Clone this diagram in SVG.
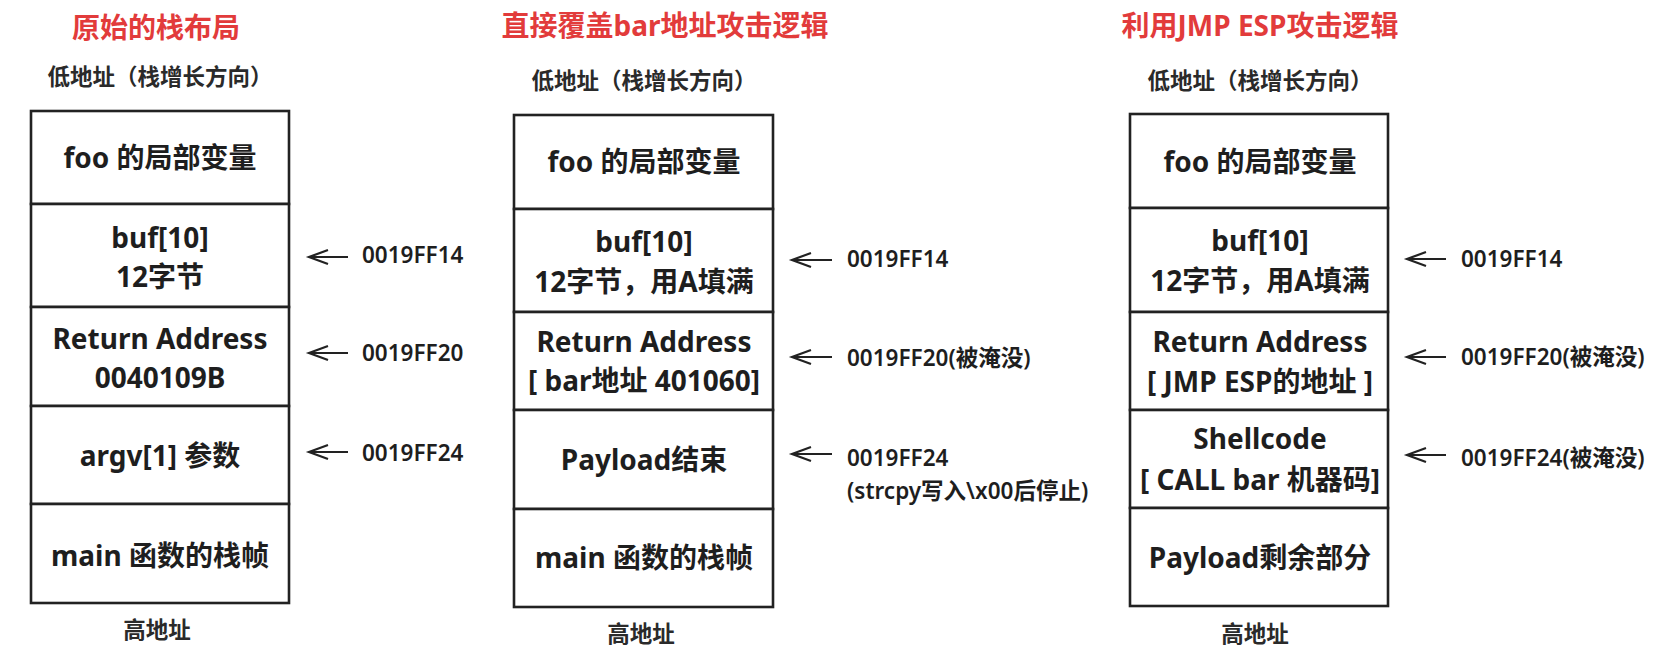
<svg xmlns="http://www.w3.org/2000/svg" width="1664" height="659" viewBox="0 0 1664 659">
<style>
text{font-family:"Noto Sans","Noto Sans CJK SC",sans-serif;fill:#1e1e1e}
.title{font-size:28px;font-weight:700;fill:#e23b3b;text-anchor:middle}
.sub{font-size:22.5px;font-weight:700;text-anchor:middle;fill:#2a2a2a}
.cell{fill:#fff;stroke:#222;stroke-width:2.6}
.bt{font-size:28px;font-weight:700;text-anchor:middle}
.lbl{font-size:22.5px;font-weight:600}
.arr{stroke:#222;stroke-width:2.2;fill:none;marker-end:url(#ah)}
</style>
<defs>
<marker id="ah" markerUnits="userSpaceOnUse" markerWidth="24" markerHeight="20" viewBox="-2 -2 24 20" refX="19" refY="7" orient="auto" overflow="visible">
<path d="M0,0 L19,7 L0,14" fill="none" stroke="#222" stroke-width="2.2" stroke-linejoin="miter"/>
</marker>
</defs>
<rect width="1664" height="659" fill="#fff"/>

<!-- Panel 1 -->
<g id="p1-title"><text class="title" x="156" y="38">原始的栈布局</text></g>
<g id="p1-low"><text class="sub" x="160" y="85">低地址（栈增长方向）</text></g>
<g id="p1-foo"><rect class="cell" x="31" y="111" width="258" height="93"/><text class="bt" x="160" y="168">foo 的局部变量</text></g>
<g id="p1-buf"><rect class="cell" x="31" y="204" width="258" height="103"/><text class="bt" x="160" y="248">buf[10]</text><text class="bt" x="160" y="287">12字节</text></g>
<g id="p1-ret"><rect class="cell" x="31" y="307" width="258" height="99"/><text class="bt" x="160" y="349">Return Address</text><text class="bt" x="160" y="388">0040109B</text></g>
<g id="p1-argv"><rect class="cell" x="31" y="406" width="258" height="98"/><text class="bt" x="160" y="466">argv[1] 参数</text></g>
<g id="p1-main"><rect class="cell" x="31" y="504" width="258" height="99"/><text class="bt" x="160" y="566">main 函数的栈帧</text></g>
<g id="p1-high"><text class="sub" x="157" y="638">高地址</text></g>
<g id="p1-a1"><text class="lbl" x="362" y="263">0019FF14</text></g>
<g id="p1-a2"><text class="lbl" x="362" y="361">0019FF20</text></g>
<g id="p1-a3"><text class="lbl" x="362" y="461">0019FF24</text></g>

<!-- Panel 2 -->
<g id="p2-title"><text class="title" x="665" y="36">直接覆盖bar地址攻击逻辑</text></g>
<g id="p2-low"><text class="sub" x="644" y="89">低地址（栈增长方向）</text></g>
<g id="p2-foo"><rect class="cell" x="514" y="115" width="259" height="94"/><text class="bt" x="644" y="172">foo 的局部变量</text></g>
<g id="p2-buf"><rect class="cell" x="514" y="209" width="259" height="103"/><text class="bt" x="644" y="252">buf[10]</text><text class="bt" x="644" y="292">12字节，用A填满</text></g>
<g id="p2-ret"><rect class="cell" x="514" y="312" width="259" height="98"/><text class="bt" x="644" y="352">Return Address</text><text class="bt" x="644" y="391">[ bar地址 401060]</text></g>
<g id="p2-pay"><rect class="cell" x="514" y="410" width="259" height="99"/><text class="bt" x="644" y="470">Payload结束</text></g>
<g id="p2-main"><rect class="cell" x="514" y="509" width="259" height="98"/><text class="bt" x="644" y="568">main 函数的栈帧</text></g>
<g id="p2-high"><text class="sub" x="641" y="642">高地址</text></g>
<g id="p2-a1"><text class="lbl" x="847" y="267">0019FF14</text></g>
<g id="p2-a2"><text class="lbl" x="847" y="366">0019FF20(被淹没)</text></g>
<g id="p2-a3"><text class="lbl" x="847" y="466">0019FF24</text><text class="lbl" x="847" y="499">(strcpy写入\x00后停止)</text></g>

<!-- Panel 3 -->
<g id="p3-title"><text class="title" x="1260" y="36">利用JMP ESP攻击逻辑</text></g>
<g id="p3-low"><text class="sub" x="1260" y="89">低地址（栈增长方向）</text></g>
<g id="p3-foo"><rect class="cell" x="1130" y="114" width="258" height="94"/><text class="bt" x="1260" y="172">foo 的局部变量</text></g>
<g id="p3-buf"><rect class="cell" x="1130" y="208" width="258" height="104"/><text class="bt" x="1260" y="251">buf[10]</text><text class="bt" x="1260" y="291">12字节，用A填满</text></g>
<g id="p3-ret"><rect class="cell" x="1130" y="312" width="258" height="98"/><text class="bt" x="1260" y="352">Return Address</text><text class="bt" x="1260" y="392">[ JMP ESP的地址 ]</text></g>
<g id="p3-shell"><rect class="cell" x="1130" y="410" width="258" height="98"/><text class="bt" x="1260" y="449">Shellcode</text><text class="bt" x="1260" y="490">[ CALL bar 机器码]</text></g>
<g id="p3-pay"><rect class="cell" x="1130" y="508" width="258" height="98"/><text class="bt" x="1260" y="568">Payload剩余部分</text></g>
<g id="p3-high"><text class="sub" x="1255" y="642">高地址</text></g>
<g id="p3-a1"><text class="lbl" x="1461" y="267">0019FF14</text></g>
<g id="p3-a2"><text class="lbl" x="1461" y="365">0019FF20(被淹没)</text></g>
<g id="p3-a3"><text class="lbl" x="1461" y="466">0019FF24(被淹没)</text></g>

<g id="connectors">
<line class="arr" x1="348" y1="257" x2="309" y2="257"/>
<line class="arr" x1="348" y1="353" x2="309" y2="353"/>
<line class="arr" x1="348" y1="452" x2="309" y2="452"/>
<line class="arr" x1="832" y1="260" x2="792" y2="260"/>
<line class="arr" x1="832" y1="357" x2="792" y2="357"/>
<line class="arr" x1="832" y1="454" x2="792" y2="454"/>
<line class="arr" x1="1446" y1="259" x2="1407" y2="259"/>
<line class="arr" x1="1446" y1="357" x2="1407" y2="357"/>
<line class="arr" x1="1446" y1="455" x2="1407" y2="455"/>
</g>
</svg>
